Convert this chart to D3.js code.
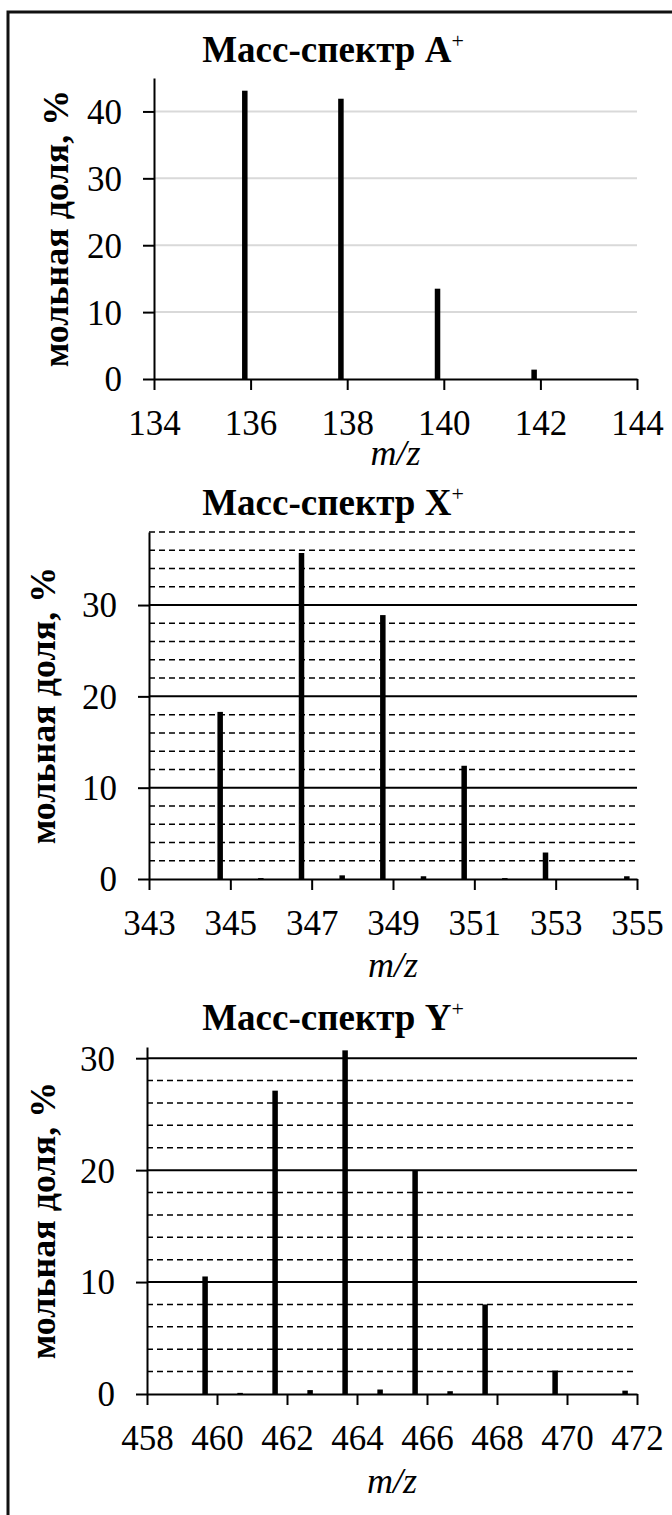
<!DOCTYPE html>
<html>
<head>
<meta charset="utf-8">
<script src="https://cdn.jsdelivr.net/npm/d3@7"></script>
<style>
  html, body { margin: 0; padding: 0; background: #fff; }
  svg { display: block; }
  text { font-family: "Liberation Serif", "Times New Roman", serif; fill: #000; }
</style>
</head>
<body>
<div id="chart"></div>
<script>
// Mass spectrum A+
const mzA = [135.88, 137.87, 139.87, 141.87];
const fracA = [43.1, 41.9, 13.5, 1.4];
const xTicksA = [134, 136, 138, 140, 142, 144];
const yTicksA = [0, 10, 20, 30, 40];

// Mass spectrum X+
const mzX = [344.75, 345.75, 346.75, 347.75, 348.75, 349.75, 350.75, 351.75, 352.75, 354.75];
const fracX = [18.3, 0.1, 35.7, 0.4, 28.9, 0.3, 12.4, 0.1, 2.9, 0.3];
const xTicksX = [343, 345, 347, 349, 351, 353, 355];
const yTicksX = [0, 10, 20, 30];
const yMinorX = [2, 4, 6, 8, 12, 14, 16, 18, 22, 24, 26, 28, 32, 34, 36, 38];

// Mass spectrum Y+
const mzY = [459.66, 460.66, 461.66, 462.66, 463.66, 464.66, 465.66, 466.66, 467.66, 469.66, 471.66];
const fracY = [10.5, 0.1, 27.1, 0.35, 30.7, 0.4, 20.0, 0.25, 8.0, 2.1, 0.3];
const xTicksY = [458, 460, 462, 464, 466, 468, 470, 472];
const yTicksY = [0, 10, 20, 30];
const yMinorY = [2, 4, 6, 8, 12, 14, 16, 18, 22, 24, 26, 28];

const W = 672, H = 1515;

const svg = d3.select('#chart').append('svg')
  .attr('width', W)
  .attr('height', H);

// outer frame (cropped at right and bottom)
svg.append('path')
  .attr('d', `M8,${H} V12 H${W}`)
  .attr('fill', 'none')
  .attr('stroke', '#111')
  .attr('stroke-width', 3);

const charts = [
  {
    label: 'A', mz: mzA, frac: fracA, xTicks: xTicksA, yTicks: yTicksA, yMinor: [],
    xDomain: [134, 144], yMax: 45,
    left: 154, right: 637, top: 78, bottom: 379,
    titleY: 62, mzY: 465, yLabelX: 55, grid: 'light'
  },
  {
    label: 'X', mz: mzX, frac: fracX, xTicks: xTicksX, yTicks: yTicksX, yMinor: yMinorX,
    xDomain: [343, 355], yMax: 38,
    left: 149, right: 637, top: 532, bottom: 879,
    titleY: 515, mzY: 977, yLabelX: 42, grid: 'dark'
  },
  {
    label: 'Y', mz: mzY, frac: fracY, xTicks: xTicksY, yTicks: yTicksY, yMinor: yMinorY,
    xDomain: [458, 472], yMax: 31,
    left: 147, right: 637, top: 1047, bottom: 1394,
    titleY: 1030, mzY: 1493, yLabelX: 42, grid: 'dark'
  }
];

charts.forEach(drawSpectrum);

function drawSpectrum(c) {
  const x = d3.scaleLinear().domain(c.xDomain).range([c.left, c.right]);
  const y = d3.scaleLinear().domain([0, c.yMax]).range([c.bottom, c.top]);
  const g = svg.append('g');

  // gridlines
  if (c.grid === 'light') {
    g.append('g').selectAll('line')
      .data(c.yTicks.filter(d => d > 0))
      .join('line')
      .attr('x1', c.left).attr('x2', c.right)
      .attr('y1', d => y(d)).attr('y2', d => y(d))
      .attr('stroke', '#d9d9d9')
      .attr('stroke-width', 2);
  } else {
    g.append('g').selectAll('line')
      .data(c.yMinor)
      .join('line')
      .attr('x1', c.left).attr('x2', c.right)
      .attr('y1', d => y(d)).attr('y2', d => y(d))
      .attr('stroke', '#000')
      .attr('stroke-width', 1.5)
      .attr('stroke-dasharray', '6,4');
    g.append('g').selectAll('line')
      .data(c.yTicks.filter(d => d > 0))
      .join('line')
      .attr('x1', c.left).attr('x2', c.right)
      .attr('y1', d => y(d)).attr('y2', d => y(d))
      .attr('stroke', '#000')
      .attr('stroke-width', 2);
  }

  // bars
  g.append('g').selectAll('rect')
    .data(c.mz.map((m, i) => ({ m, v: c.frac[i] })))
    .join('rect')
    .attr('x', d => x(d.m) - 2.75)
    .attr('width', 5.5)
    .attr('y', d => y(d.v))
    .attr('height', d => y(0) - y(d.v))
    .attr('fill', '#000');

  // axes
  const xAxis = d3.axisBottom(x).tickValues(c.xTicks).tickSize(11).tickSizeOuter(0);
  const xg = g.append('g')
    .attr('transform', `translate(0,${c.bottom})`)
    .call(xAxis);
  xg.selectAll('path, line').attr('stroke', '#000').attr('stroke-width', 2);
  xg.selectAll('text')
    .attr('y', 56).attr('dy', null)
    .attr('font-size', 35)
    .attr('font-family', '"Liberation Serif", serif')
    .attr('fill', '#000');

  const yAxis = d3.axisLeft(y).tickValues(c.yTicks).tickSize(11).tickSizeOuter(0);
  const yg = g.append('g')
    .attr('transform', `translate(${c.left},0)`)
    .call(yAxis);
  yg.selectAll('path, line').attr('stroke', '#000').attr('stroke-width', 2);
  yg.selectAll('text')
    .attr('x', -32).attr('dy', '0.34em')
    .attr('font-size', 35)
    .attr('font-family', '"Liberation Serif", serif')
    .attr('fill', '#000');

  // title
  const t = g.append('text')
    .attr('x', 333).attr('y', c.titleY)
    .attr('text-anchor', 'middle')
    .attr('font-size', 37)
    .attr('font-weight', 'bold')
    .text('Масс-спектр ' + c.label);
  t.append('tspan')
    .attr('font-size', 22)
    .attr('dy', -14)
    .attr('font-weight', 'normal')
    .text('+');

  // axis titles
  g.append('text')
    .attr('x', (c.left + c.right) / 2).attr('y', c.mzY)
    .attr('text-anchor', 'middle')
    .attr('font-size', 36)
    .attr('font-style', 'italic')
    .text('m/z');

  g.append('text')
    .attr('transform', `translate(${c.yLabelX},${(c.top + c.bottom) / 2}) rotate(-90)`)
    .attr('text-anchor', 'middle')
    .attr('dy', '0.35em')
    .attr('font-size', 36)
    .attr('font-weight', 'bold')
    .text('мольная доля, %');
}
</script>
</body>
</html>
